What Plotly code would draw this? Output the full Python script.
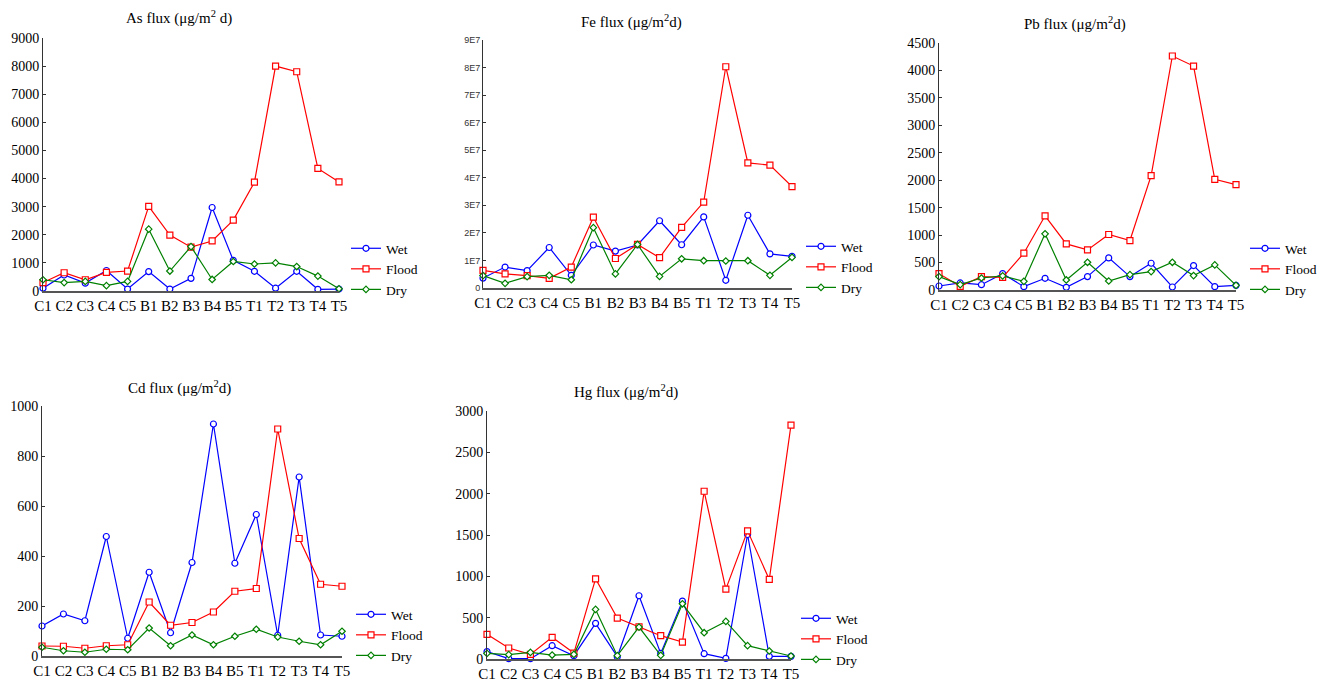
import plotly.graph_objects as go

sites = ["C1","C2","C3","C4","C5","B1","B2","B3","B4","B5","T1","T2","T3","T4","T5"]

as_wet   = [100, 570, 280, 730, 70, 690, 70, 450, 2970, 1090, 700, 100, 700, 60, 70]
as_flood = [300, 650, 400, 660, 710, 3010, 1990, 1560, 1780, 2520, 3870, 8000, 7800, 4360, 3880]
as_dry   = [400, 300, 340, 190, 340, 2200, 710, 1580, 410, 1050, 960, 1000, 870, 530, 80]

fe_wet   = [0.36e7, 0.76e7, 0.63e7, 1.47e7, 0.46e7, 1.56e7, 1.34e7, 1.56e7, 2.44e7, 1.57e7, 2.58e7, 0.28e7, 2.64e7, 1.24e7, 1.15e7]
fe_flood = [0.64e7, 0.51e7, 0.45e7, 0.35e7, 0.76e7, 2.57e7, 1.07e7, 1.58e7, 1.10e7, 2.20e7, 3.12e7, 8.03e7, 4.54e7, 4.46e7, 3.68e7]
fe_dry   = [0.45e7, 0.17e7, 0.41e7, 0.46e7, 0.30e7, 2.19e7, 0.51e7, 1.58e7, 0.42e7, 1.06e7, 0.99e7, 0.98e7, 0.99e7, 0.46e7, 1.11e7]

pb_wet   = [73, 128, 97, 298, 61, 213, 49, 244, 585, 244, 487, 55, 445, 61, 85]
pb_flood = [298, 67, 244, 231, 670, 1352, 840, 731, 1011, 901, 2083, 4263, 4080, 2016, 1918]
pb_dry   = [244, 97, 219, 256, 158, 1023, 183, 505, 164, 280, 335, 505, 262, 457, 85]

cd_wet   = [120, 168, 141, 478, 71, 335, 93, 374, 928, 371, 566, 83, 716, 84, 79]
cd_flood = [40, 39, 31, 41, 45, 216, 123, 134, 176, 259, 270, 908, 470, 287, 279]
cd_dry   = [35, 21, 15, 27, 25, 112, 41, 84, 45, 79, 107, 76, 59, 45, 99]

hg_wet   = [89, 4, 4, 161, 40, 431, 28, 765, 68, 700, 64, 8, 1506, 32, 32]
hg_flood = [298, 133, 56, 262, 72, 970, 495, 390, 282, 205, 2029, 845, 1550, 962, 2830]
hg_dry   = [68, 52, 80, 48, 56, 600, 40, 386, 44, 668, 318, 455, 161, 97, 36]

series_names = ["Wet", "Flood", "Dry"]

as_ticks = [0, 1000, 2000, 3000, 4000, 5000, 6000, 7000, 8000, 9000]
fe_ticks = [0, 1e7, 2e7, 3e7, 4e7, 5e7, 6e7, 7e7, 8e7, 9e7]
fe_ticktext = ["0", "1E7", "2E7", "3E7", "4E7", "5E7", "6E7", "7E7", "8E7", "9E7"]
pb_ticks = [0, 500, 1000, 1500, 2000, 2500, 3000, 3500, 4000, 4500]
cd_ticks = [0, 200, 400, 600, 800, 1000]
hg_ticks = [0, 500, 1000, 1500, 2000, 2500, 3000]

titles = ["As flux (μg/m<sup>2</sup> d)", "Fe flux (μg/m<sup>2</sup>d)", "Pb flux (μg/m<sup>2</sup>d)",
          "Cd flux (μg/m<sup>2</sup>d)", "Hg flux (μg/m<sup>2</sup>d)"]

W, H = 1320, 682
SERIF = "Liberation Serif, DejaVu Serif, serif"
SANS = "Liberation Sans, Arial, sans-serif"

# panel pixel boxes: x0, x1, ytop, ybottom
panels = [
    (43, 339, 38, 291),
    (483, 792, 40, 288),
    (939, 1236, 43, 290),
    (42, 342, 406, 656),
    (487, 791, 411, 659),
]
title_pos = [(179, 18), (631, 22), (1075, 24), (179, 387), (626, 391)]
# legend text left x, centre y of the middle row
legend_pos = [(378, 269), (833, 267), (1277, 269), (383, 635), (828, 639)]

data = [
    (as_wet, as_flood, as_dry, as_ticks, None, 9000),
    (fe_wet, fe_flood, fe_dry, fe_ticks, fe_ticktext, 9e7),
    (pb_wet, pb_flood, pb_dry, pb_ticks, None, 4500),
    (cd_wet, cd_flood, cd_dry, cd_ticks, None, 1000),
    (hg_wet, hg_flood, hg_dry, hg_ticks, None, 3000),
]

colors = ["#0000FF", "#FF0000", "#008000"]
symbols = ["circle", "square", "diamond"]
msizes = [6, 6, 5]

fig = go.Figure()
layout = dict(
    template="none",
    width=W, height=H, margin=dict(l=0, r=0, t=0, b=0, autoexpand=False),
    paper_bgcolor="white", plot_bgcolor="white",
    font=dict(family=SERIF, size=14, color="black"),
    showlegend=True, annotations=[],
)

for i, (wet, flood, dry, ticks, ticktext, ymax) in enumerate(data):
    n = i + 1
    xa = "x" if n == 1 else f"x{n}"
    ya = "y" if n == 1 else f"y{n}"
    lg = "legend" if n == 1 else f"legend{n}"
    for s, vals in enumerate([wet, flood, dry]):
        fig.add_trace(go.Scatter(
            x=sites, y=vals, name=series_names[s], mode="lines+markers",
            xaxis=xa, yaxis=ya, legend=lg, cliponaxis=False,
            line=dict(color=colors[s], width=1.2),
            marker=dict(symbol=symbols[s], size=msizes[s], color="white",
                        line=dict(color=colors[s], width=1.2)),
        ))
    x0, x1, yt, yb = panels[i]
    xkey = "xaxis" if n == 1 else f"xaxis{n}"
    ykey = "yaxis" if n == 1 else f"yaxis{n}"
    layout[xkey] = dict(
        domain=[x0 / W, x1 / W], anchor=ya, type="category", automargin=False,
        categoryorder="array", categoryarray=sites, range=[0, 14],
        showgrid=False, zeroline=False, showline=True, linecolor="#555555", linewidth=2,
        ticks="", tickfont=dict(family=SERIF, size=15, color="black"),
    )
    if ticktext is None:
        tf = dict(family=SERIF, size=14, color="black")
        tt = [str(t) for t in ticks]
    else:
        tf = dict(family=SANS, size=9, color="#333333")
        tt = ticktext
    layout[ykey] = dict(
        domain=[1 - yb / H, 1 - yt / H], anchor=xa, range=[0, ymax], automargin=False,
        tickvals=ticks, ticktext=tt, tickfont=tf,
        showgrid=False, zeroline=False, showline=True, linecolor="#333333", linewidth=1,
        ticks="inside", ticklen=3, tickcolor="#333333",
    )
    lx, ly = legend_pos[i]
    layout[lg] = dict(
        x=(lx - 32) / W, y=1 - ly / H, xanchor="left", yanchor="middle",
        font=dict(family=SERIF, size=13.5, color="black"),
        bgcolor="rgba(0,0,0,0)", borderwidth=0, itemwidth=30, tracegroupgap=0,
    )
    tx, ty = title_pos[i]
    layout["annotations"].append(dict(
        text=titles[i], x=tx / W, y=1 - ty / H, xref="paper", yref="paper",
        xanchor="center", yanchor="middle", showarrow=False,
        font=dict(family=SERIF, size=15, color="black"),
    ))

fig.update_layout(**layout)
fig.write_html(
    "out.html",
    config={"displayModeBar": False},
    post_script="document.body.style.margin='0';document.body.style.overflow='hidden';",
)
